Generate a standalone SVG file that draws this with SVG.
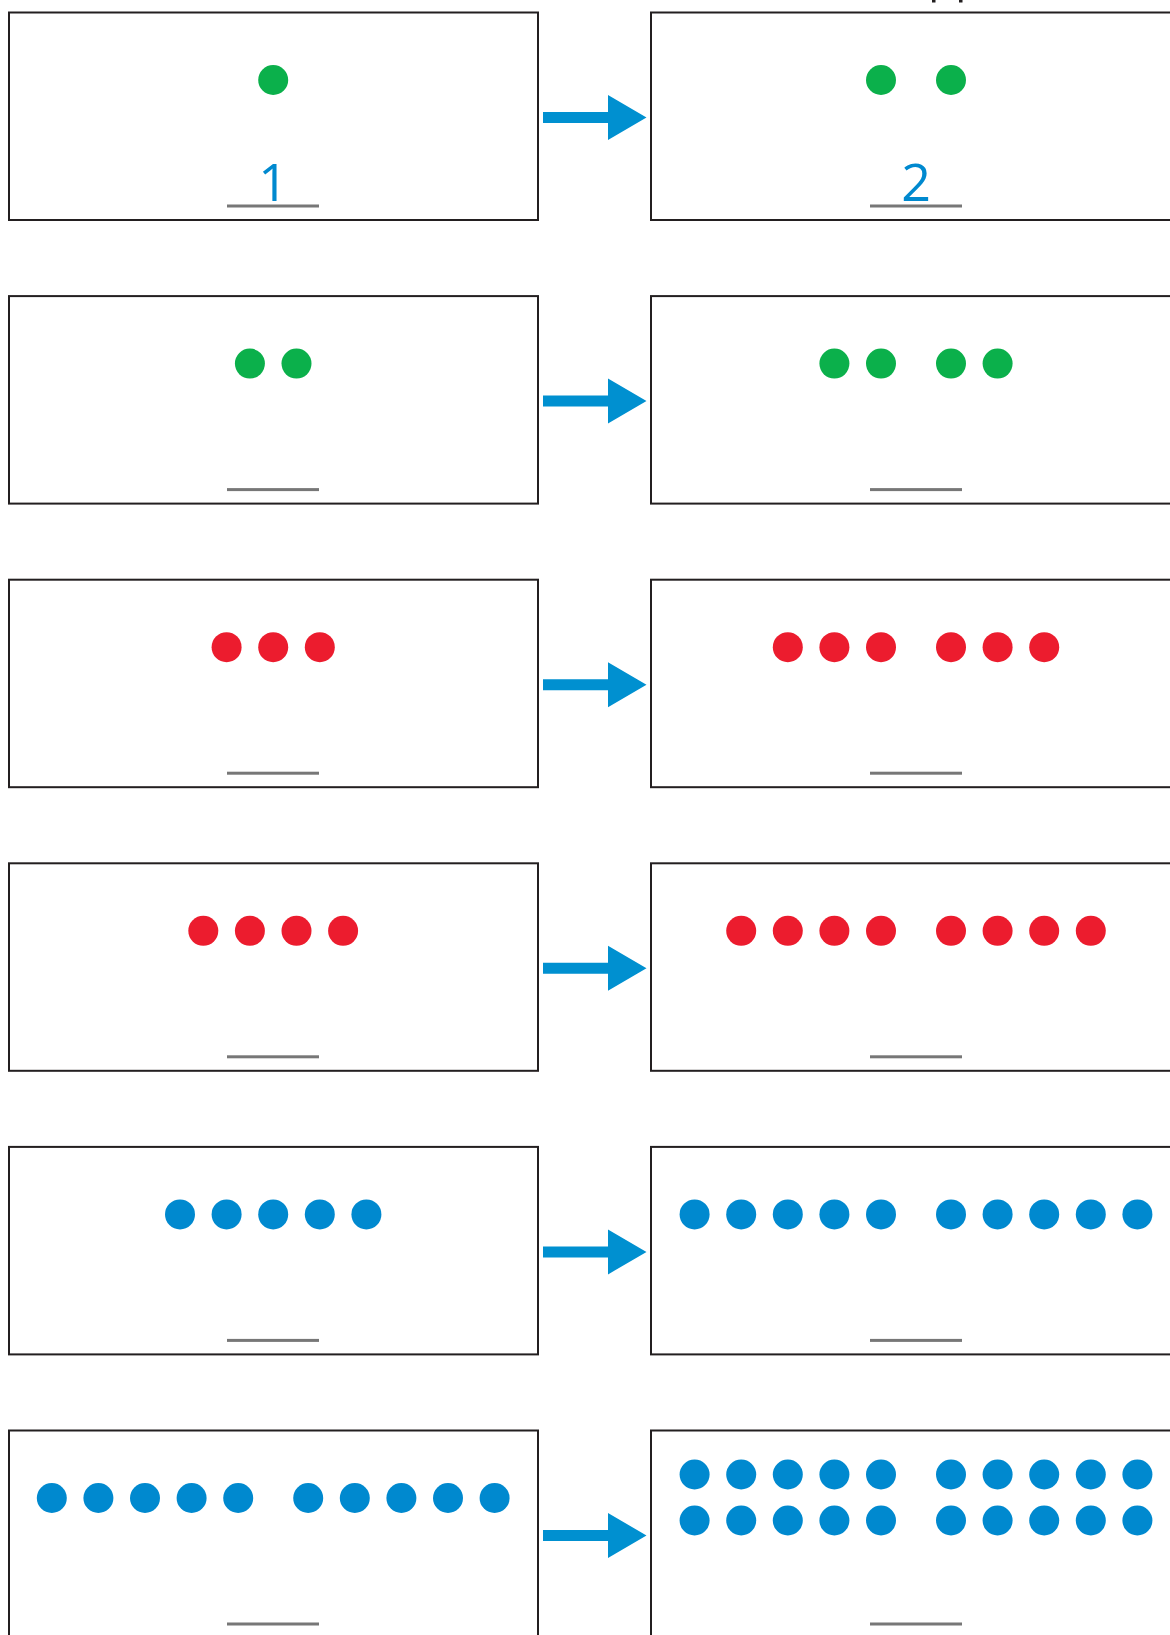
<svg xmlns="http://www.w3.org/2000/svg" xmlns:xlink="http://www.w3.org/1999/xlink" width="1170" height="1635" viewBox="0 0 1170 1635">
<style>
.box{fill:#fff;stroke:#231f20;stroke-width:2}
.g{fill:#0bb04b}.r{fill:#ec1c2e}.b{fill:#0089cf}
.ul{fill:#777}
.arr{fill:#0090d0}
.num{font-family:"Open Sans","Liberation Sans",sans-serif;font-weight:400;font-size:52px;fill:#0089cf;text-anchor:middle}
</style>
<defs>
<polygon id="arrow" points="543,-5.5 608,-5.5 608,-22.5 646.5,0 608,22.5 608,5.5 543,5.5"/>
</defs>
<rect width="1170" height="1635" fill="#fff"/>
<rect x="932" y="0" width="3.5" height="2.5" fill="#231f20"/>
<rect x="959" y="0" width="3.5" height="2.5" fill="#231f20"/>

<g id="row1-left">
<rect class="box" x="9" y="12.5" width="529" height="207.5"/>
<circle class="g" cx="273.2" cy="80" r="15"/>
<text class="num" x="273.2" y="201">1</text>
<rect class="ul" x="227" y="204.5" width="92" height="3"/>
</g>
<g id="row1-right">
<rect class="box" x="651" y="12.5" width="540" height="207.5"/>
<circle class="g" cx="881" cy="80" r="15"/><circle class="g" cx="951" cy="80" r="15"/>
<text class="num" x="916" y="201">2</text>
<rect class="ul" x="870" y="204.5" width="92" height="3"/>
</g>

<g id="row2-left">
<rect class="box" x="9" y="296.1" width="529" height="207.5"/>
<circle class="g" cx="249.9" cy="363.6" r="15"/><circle class="g" cx="296.5" cy="363.6" r="15"/>
<rect class="ul" x="227" y="488.1" width="92" height="3"/>
</g>
<g id="row2-right">
<rect class="box" x="651" y="296.1" width="540" height="207.5"/>
<circle class="g" cx="834.4" cy="363.6" r="15"/><circle class="g" cx="881" cy="363.6" r="15"/>
<circle class="g" cx="951" cy="363.6" r="15"/><circle class="g" cx="997.6" cy="363.6" r="15"/>
<rect class="ul" x="870" y="488.1" width="92" height="3"/>
</g>

<g id="row3-left">
<rect class="box" x="9" y="579.7" width="529" height="207.5"/>
<circle class="r" cx="226.6" cy="647.2" r="15"/><circle class="r" cx="273.2" cy="647.2" r="15"/><circle class="r" cx="319.8" cy="647.2" r="15"/>
<rect class="ul" x="227" y="771.7" width="92" height="3"/>
</g>
<g id="row3-right">
<rect class="box" x="651" y="579.7" width="540" height="207.5"/>
<circle class="r" cx="787.8" cy="647.2" r="15"/><circle class="r" cx="834.4" cy="647.2" r="15"/><circle class="r" cx="881" cy="647.2" r="15"/>
<circle class="r" cx="951" cy="647.2" r="15"/><circle class="r" cx="997.6" cy="647.2" r="15"/><circle class="r" cx="1044.2" cy="647.2" r="15"/>
<rect class="ul" x="870" y="771.7" width="92" height="3"/>
</g>

<g id="row4-left">
<rect class="box" x="9" y="863.3" width="529" height="207.5"/>
<circle class="r" cx="203.3" cy="930.8" r="15"/><circle class="r" cx="249.9" cy="930.8" r="15"/><circle class="r" cx="296.5" cy="930.8" r="15"/><circle class="r" cx="343.1" cy="930.8" r="15"/>
<rect class="ul" x="227" y="1055.3" width="92" height="3"/>
</g>
<g id="row4-right">
<rect class="box" x="651" y="863.3" width="540" height="207.5"/>
<circle class="r" cx="741.2" cy="930.8" r="15"/><circle class="r" cx="787.8" cy="930.8" r="15"/><circle class="r" cx="834.4" cy="930.8" r="15"/><circle class="r" cx="881" cy="930.8" r="15"/>
<circle class="r" cx="951" cy="930.8" r="15"/><circle class="r" cx="997.6" cy="930.8" r="15"/><circle class="r" cx="1044.2" cy="930.8" r="15"/><circle class="r" cx="1090.8" cy="930.8" r="15"/>
<rect class="ul" x="870" y="1055.3" width="92" height="3"/>
</g>

<g id="row5-left">
<rect class="box" x="9" y="1146.9" width="529" height="207.5"/>
<circle class="b" cx="180" cy="1214.4" r="15"/><circle class="b" cx="226.6" cy="1214.4" r="15"/><circle class="b" cx="273.2" cy="1214.4" r="15"/><circle class="b" cx="319.8" cy="1214.4" r="15"/><circle class="b" cx="366.4" cy="1214.4" r="15"/>
<rect class="ul" x="227" y="1338.9" width="92" height="3"/>
</g>
<g id="row5-right">
<rect class="box" x="651" y="1146.9" width="540" height="207.5"/>
<circle class="b" cx="694.6" cy="1214.4" r="15"/><circle class="b" cx="741.2" cy="1214.4" r="15"/><circle class="b" cx="787.8" cy="1214.4" r="15"/><circle class="b" cx="834.4" cy="1214.4" r="15"/><circle class="b" cx="881" cy="1214.4" r="15"/>
<circle class="b" cx="951" cy="1214.4" r="15"/><circle class="b" cx="997.6" cy="1214.4" r="15"/><circle class="b" cx="1044.2" cy="1214.4" r="15"/><circle class="b" cx="1090.8" cy="1214.4" r="15"/><circle class="b" cx="1137.4" cy="1214.4" r="15"/>
<rect class="ul" x="870" y="1338.9" width="92" height="3"/>
</g>

<g id="row6-left">
<rect class="box" x="9" y="1430.5" width="529" height="220"/>
<circle class="b" cx="51.8" cy="1498" r="15"/><circle class="b" cx="98.4" cy="1498" r="15"/><circle class="b" cx="145" cy="1498" r="15"/><circle class="b" cx="191.6" cy="1498" r="15"/><circle class="b" cx="238.2" cy="1498" r="15"/>
<circle class="b" cx="308.2" cy="1498" r="15"/><circle class="b" cx="354.8" cy="1498" r="15"/><circle class="b" cx="401.4" cy="1498" r="15"/><circle class="b" cx="448" cy="1498" r="15"/><circle class="b" cx="494.6" cy="1498" r="15"/>
<rect class="ul" x="227" y="1622.5" width="92" height="3"/>
</g>
<g id="row6-right">
<rect class="box" x="651" y="1430.5" width="540" height="220"/>
<circle class="b" cx="694.6" cy="1474.5" r="15"/><circle class="b" cx="741.2" cy="1474.5" r="15"/><circle class="b" cx="787.8" cy="1474.5" r="15"/><circle class="b" cx="834.4" cy="1474.5" r="15"/><circle class="b" cx="881" cy="1474.5" r="15"/>
<circle class="b" cx="951" cy="1474.5" r="15"/><circle class="b" cx="997.6" cy="1474.5" r="15"/><circle class="b" cx="1044.2" cy="1474.5" r="15"/><circle class="b" cx="1090.8" cy="1474.5" r="15"/><circle class="b" cx="1137.4" cy="1474.5" r="15"/>
<circle class="b" cx="694.6" cy="1520.5" r="15"/><circle class="b" cx="741.2" cy="1520.5" r="15"/><circle class="b" cx="787.8" cy="1520.5" r="15"/><circle class="b" cx="834.4" cy="1520.5" r="15"/><circle class="b" cx="881" cy="1520.5" r="15"/>
<circle class="b" cx="951" cy="1520.5" r="15"/><circle class="b" cx="997.6" cy="1520.5" r="15"/><circle class="b" cx="1044.2" cy="1520.5" r="15"/><circle class="b" cx="1090.8" cy="1520.5" r="15"/><circle class="b" cx="1137.4" cy="1520.5" r="15"/>
<rect class="ul" x="870" y="1622.5" width="92" height="3"/>
</g>

<g id="connectors" class="arr">
<use xlink:href="#arrow" transform="translate(0,117.5)"/>
<use xlink:href="#arrow" transform="translate(0,401.1)"/>
<use xlink:href="#arrow" transform="translate(0,684.7)"/>
<use xlink:href="#arrow" transform="translate(0,968.3)"/>
<use xlink:href="#arrow" transform="translate(0,1251.9)"/>
<use xlink:href="#arrow" transform="translate(0,1535.5)"/>
</g>
</svg>
